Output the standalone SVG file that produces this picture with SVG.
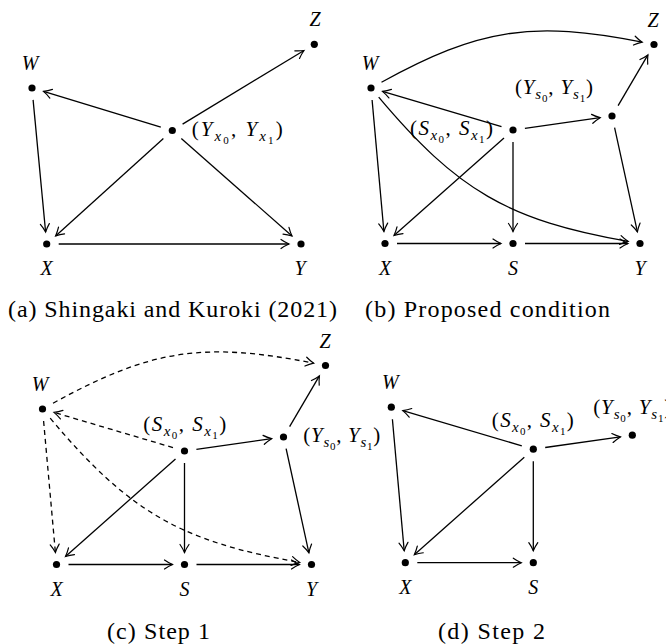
<svg xmlns="http://www.w3.org/2000/svg" width="666" height="644" viewBox="0 0 666 644">
<style>
.e{fill:none;stroke:#000;stroke-width:1.3;marker-end:url(#ah)}
.d{stroke-dasharray:5 4}
.dot{fill:#000}
text{font-family:"Liberation Serif","Times New Roman",serif;fill:#000}
.lab{font-size:20px;font-style:italic;text-anchor:middle}
.m{font-size:21px}
.i{font-style:italic}
.s1{font-size:15px}
.s2{font-size:11px}
.cap{font-size:24px}
</style>
<defs>
<marker id="ah" viewBox="-10 -6 12 12" refX="0" refY="0" markerWidth="12" markerHeight="12" markerUnits="userSpaceOnUse" orient="auto">
<path d="M-8,-4.5 C-5,-2.4 -1.6,-0.7 0,0 C-1.6,0.7 -5,2.4 -8,4.5" fill="none" stroke="#000" stroke-width="1.2" stroke-linecap="round"/>
</marker>
</defs>
<rect width="666" height="644" fill="#fff"/>

<!-- Panel (a) -->
<g id="panel-a">
<g id="a-connectors">
<path class="e" d="M160.8,127.1 L43.5,91.4"/>
<path class="e" d="M33.1,99.9 L45.6,232"/>
<path class="e" d="M182.6,124.1 L304,50.5"/>
<path class="e" d="M163.4,138.6 L55.6,235.9"/>
<path class="e" d="M181.3,138.4 L292,236"/>
<path class="e" d="M58.7,244 L289,244"/>
</g>
<g id="a-W"><circle class="dot" cx="32" cy="88" r="3.6"/><text class="lab" x="30" y="70">W</text></g>
<g id="a-Z"><circle class="dot" cx="314.3" cy="44.3" r="3.6"/><text class="lab" x="315" y="26">Z</text></g>
<g id="a-Yx"><circle class="dot" cx="172.3" cy="130.5" r="3.6"/><text class="m" x="191.7" y="136" textLength="91" lengthAdjust="spacing">(<tspan class="i">Y</tspan><tspan class="i s1" dy="5">x</tspan><tspan class="s2" dy="3">0</tspan><tspan dy="-8">, </tspan><tspan class="i">Y</tspan><tspan class="i s1" dy="5">x</tspan><tspan class="s2" dy="3">1</tspan><tspan dy="-8">)</tspan></text></g>
<g id="a-X"><circle class="dot" cx="46.7" cy="244" r="3.6"/><text class="lab" x="46.7" y="275">X</text></g>
<g id="a-Y"><circle class="dot" cx="301" cy="244" r="3.6"/><text class="lab" x="300" y="275">Y</text></g>
<text class="cap" x="8" y="317" textLength="329" lengthAdjust="spacing">(a) Shingaki and Kuroki (2021)</text>
</g>

<!-- Panel (b) -->
<g id="panel-b">
<g id="b-connectors">
<path class="e" d="M381.5,82.2 C479.6,28.2 532.3,20.5 642.2,42.2"/>
<path class="e" d="M378.7,97.2 C457.2,190.5 508.1,220.4 628.2,241.4"/>
<path class="e" d="M501.5,126.6 L382.5,91.4"/>
<path class="e" d="M372.1,100 L383.9,231.5"/>
<path class="e" d="M504,138 L394,235.5"/>
<path class="e" d="M513,142 L513,231.5"/>
<path class="e" d="M524.9,128.3 L600.1,117.7"/>
<path class="e" d="M618.1,105.7 L647.9,54.9"/>
<path class="e" d="M614.6,127.7 L637.4,231.8"/>
<path class="e" d="M397,243.5 L501,243.5"/>
<path class="e" d="M525,243.5 L628,243.5"/>
</g>
<g id="b-W"><circle class="dot" cx="371" cy="88" r="3.6"/><text class="lab" x="370" y="70">W</text></g>
<g id="b-Z"><circle class="dot" cx="654" cy="44.5" r="3.6"/><text class="lab" x="653" y="26.5">Z</text></g>
<g id="b-Ys"><circle class="dot" cx="612" cy="116" r="3.6"/><text class="m" x="515" y="94" textLength="78" lengthAdjust="spacing">(<tspan class="i">Y</tspan><tspan class="i s1" dy="5">s</tspan><tspan class="s2" dy="3">0</tspan><tspan dy="-8">, </tspan><tspan class="i">Y</tspan><tspan class="i s1" dy="5">s</tspan><tspan class="s2" dy="3">1</tspan><tspan dy="-8">)</tspan></text></g>
<g id="b-Sx"><circle class="dot" cx="513" cy="130" r="3.6"/><text class="m" x="410" y="135" textLength="83" lengthAdjust="spacing">(<tspan class="i">S</tspan><tspan class="i s1" dy="5">x</tspan><tspan class="s2" dy="3">0</tspan><tspan dy="-8">, </tspan><tspan class="i">S</tspan><tspan class="i s1" dy="5">x</tspan><tspan class="s2" dy="3">1</tspan><tspan dy="-8">)</tspan></text></g>
<g id="b-X"><circle class="dot" cx="385" cy="243.5" r="3.6"/><text class="lab" x="385" y="274.5">X</text></g>
<g id="b-S"><circle class="dot" cx="513" cy="243.5" r="3.6"/><text class="lab" x="513" y="274.5">S</text></g>
<g id="b-Y"><circle class="dot" cx="640" cy="243.5" r="3.6"/><text class="lab" x="640" y="274.5">Y</text></g>
<text class="cap" x="365" y="317" textLength="245" lengthAdjust="spacing">(b) Proposed condition</text>
</g>

<!-- Panel (c) -->
<g id="panel-c">
<g transform="translate(-328.5,321)">
<g id="c-connectors">
<path class="e d" d="M381.5,82.2 C479.6,28.2 532.3,20.5 642.2,42.2"/>
<path class="e d" d="M378.7,97.2 C457.2,190.5 508.1,220.4 628.2,241.4"/>
<path class="e d" d="M501.5,126.6 L382.5,91.4"/>
<path class="e d" d="M372.1,100 L383.9,231.5"/>
<path class="e" d="M504,138 L394,235.5"/>
<path class="e" d="M513,142 L513,231.5"/>
<path class="e" d="M524.9,128.3 L600.1,117.7"/>
<path class="e" d="M618.1,105.7 L647.9,54.9"/>
<path class="e" d="M614.6,127.7 L637.4,231.8"/>
<path class="e" d="M397,243.5 L501,243.5"/>
<path class="e" d="M525,243.5 L628,243.5"/>
</g>
<g id="c-W"><circle class="dot" cx="371" cy="88" r="3.6"/><text class="lab" x="368.5" y="70">W</text></g>
<g id="c-Z"><circle class="dot" cx="654" cy="44.5" r="3.6"/><text class="lab" x="653.5" y="27">Z</text></g>
<g id="c-Ys"><circle class="dot" cx="612" cy="116" r="3.6"/><text class="m" x="631.8" y="121" textLength="77" lengthAdjust="spacing">(<tspan class="i">Y</tspan><tspan class="i s1" dy="5">s</tspan><tspan class="s2" dy="3">0</tspan><tspan dy="-8">, </tspan><tspan class="i">Y</tspan><tspan class="i s1" dy="5">s</tspan><tspan class="s2" dy="3">1</tspan><tspan dy="-8">)</tspan></text></g>
<g id="c-Sx"><circle class="dot" cx="513" cy="130" r="3.6"/><text class="m" x="471.8" y="110" textLength="83" lengthAdjust="spacing">(<tspan class="i">S</tspan><tspan class="i s1" dy="5">x</tspan><tspan class="s2" dy="3">0</tspan><tspan dy="-8">, </tspan><tspan class="i">S</tspan><tspan class="i s1" dy="5">x</tspan><tspan class="s2" dy="3">1</tspan><tspan dy="-8">)</tspan></text></g>
<g id="c-X"><circle class="dot" cx="385" cy="243.5" r="3.6"/><text class="lab" x="385" y="274.5">X</text></g>
<g id="c-S"><circle class="dot" cx="513" cy="243.5" r="3.6"/><text class="lab" x="513" y="274.5">S</text></g>
<g id="c-Y"><circle class="dot" cx="640" cy="243.5" r="3.6"/><text class="lab" x="640" y="274.5">Y</text></g>
</g>
<text class="cap" x="107" y="639" textLength="103" lengthAdjust="spacing">(c) Step 1</text>
</g>

<!-- Panel (d) -->
<g id="panel-d">
<g transform="translate(20.3,319.2)">
<g id="d-connectors">
<path class="e" d="M501.5,126.6 L382.5,91.4"/>
<path class="e" d="M372.1,100 L383.9,231.5"/>
<path class="e" d="M504,138 L394,235.5"/>
<path class="e" d="M513,142 L513,231.5"/>
<path class="e" d="M524.9,128.3 L600.1,117.7"/>
<path class="e" d="M397,243.5 L501,243.5"/>
</g>
<g id="d-W"><circle class="dot" cx="371" cy="88" r="3.6"/><text class="lab" x="370" y="70">W</text></g>
<g id="d-Ys"><circle class="dot" cx="612" cy="116" r="3.6"/><text class="m" x="573" y="95" textLength="78" lengthAdjust="spacing">(<tspan class="i">Y</tspan><tspan class="i s1" dy="5">s</tspan><tspan class="s2" dy="3">0</tspan><tspan dy="-8">, </tspan><tspan class="i">Y</tspan><tspan class="i s1" dy="5">s</tspan><tspan class="s2" dy="3">1</tspan><tspan dy="-8">)</tspan></text></g>
<g id="d-Sx"><circle class="dot" cx="513" cy="130" r="3.6"/><text class="m" x="471.5" y="108" textLength="82" lengthAdjust="spacing">(<tspan class="i">S</tspan><tspan class="i s1" dy="5">x</tspan><tspan class="s2" dy="3">0</tspan><tspan dy="-8">, </tspan><tspan class="i">S</tspan><tspan class="i s1" dy="5">x</tspan><tspan class="s2" dy="3">1</tspan><tspan dy="-8">)</tspan></text></g>
<g id="d-X"><circle class="dot" cx="385" cy="243.5" r="3.6"/><text class="lab" x="385" y="274.5">X</text></g>
<g id="d-S"><circle class="dot" cx="513" cy="243.5" r="3.6"/><text class="lab" x="513" y="274.5">S</text></g>
</g>
<text class="cap" x="438" y="639" textLength="107" lengthAdjust="spacing">(d) Step 2</text>
</g>
</svg>
